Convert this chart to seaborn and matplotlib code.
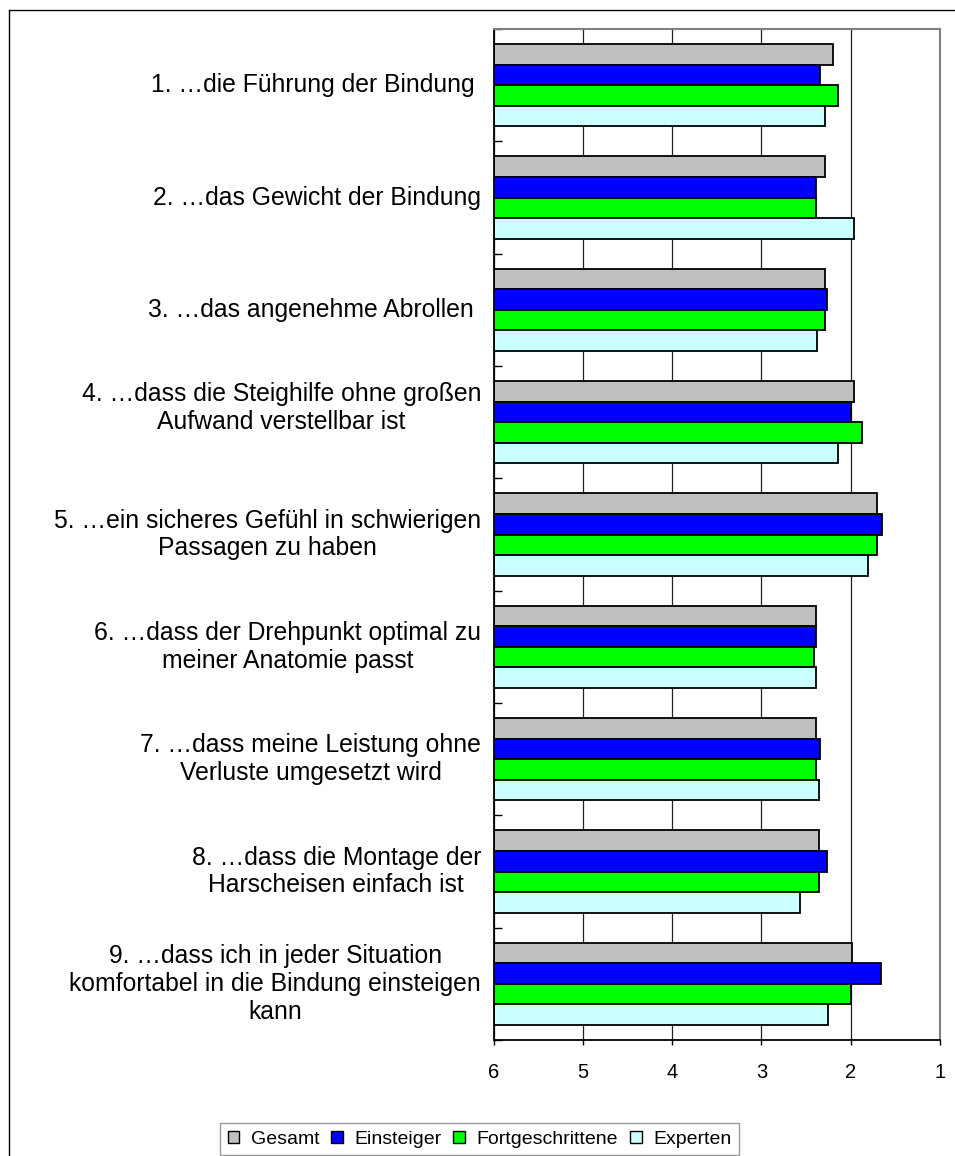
import numpy as np
import pandas as pd
import matplotlib
matplotlib.use("Agg")
import matplotlib.pyplot as plt
from matplotlib.lines import Line2D
from matplotlib.transforms import ScaledTranslation
import seaborn as sns

# ==============================
# DATA (Mittelwerte, Skala 1-6)
# ==============================
aussagen = [
    "1. …die Führung der Bindung ",
    "2. …das Gewicht der Bindung",
    "3. …das angenehme Abrollen ",
    "4. …dass die Steighilfe ohne großen\nAufwand verstellbar ist",
    "5. …ein sicheres Gefühl in schwierigen\nPassagen zu haben",
    "6. …dass der Drehpunkt optimal zu\nmeiner Anatomie passt",
    "7. …dass meine Leistung ohne\nVerluste umgesetzt wird",
    "8. …dass die Montage der\nHarscheisen einfach ist",
    "9. …dass ich in jeder Situation\nkomfortabel in die Bindung einsteigen\nkann",
]
gruppen = ["Gesamt", "Einsteiger", "Fortgeschrittene", "Experten"]

gesamt = [2.20, 2.29, 2.29, 1.96, 1.71, 2.39, 2.39, 2.36, 1.98]
einsteiger = [2.34, 2.39, 2.27, 2.00, 1.65, 2.39, 2.34, 2.27, 1.66]
fortgeschrittene = [2.14, 2.39, 2.29, 1.87, 1.71, 2.41, 2.39, 2.36, 2.00]
experten = [2.29, 1.96, 2.38, 2.14, 1.81, 2.39, 2.36, 2.57, 2.25]

x_ticks = [6, 5, 4, 3, 2, 1]
basis = 6  # bars grow from the "6" end of the reversed scale

farben = ["#C0C0C0", "#0000FF", "#00FF00", "#CCFFFF"]

# ==============================
# LONG FORMAT
# ==============================
keys = [str(i + 1) for i in range(len(aussagen))]
df = pd.DataFrame({
    "Nr": keys,
    "Gesamt": gesamt,
    "Einsteiger": einsteiger,
    "Fortgeschrittene": fortgeschrittene,
    "Experten": experten,
})
df_long = df.melt(id_vars="Nr", var_name="Gruppe", value_name="Wert")

# ==============================
# PLOT
# ==============================
sns.set_style("white")
plt.rcParams['font.family'] = ['Liberation Sans', 'DejaVu Sans']
plt.rcParams['text.color'] = 'black'
plt.rcParams['xtick.color'] = 'black'
plt.rcParams['ytick.color'] = 'black'
plt.rcParams['axes.labelcolor'] = 'black'

W, H = 955, 1156
fig = plt.figure(figsize=(W / 100, H / 100), dpi=100)
ax = fig.add_axes([493.5 / W, 1 - 1040 / H, 446.5 / W, 1011 / H])

sns.barplot(
    data=df_long, x="Wert", y="Nr", hue="Gruppe",
    order=keys, hue_order=gruppen, palette=farben,
    orient="h", width=0.73, errorbar=None,
    edgecolor="black", linewidth=1.3, saturation=1, ax=ax
)

leg_ax = ax.get_legend()
handles = leg_ax.legend_handles
labels = [t.get_text() for t in leg_ax.get_texts()]
leg_ax.remove()

# Excel style: bars start at the left end (6) of the reversed axis
for cont in ax.containers:
    for p in cont:
        w = p.get_width()
        p.set_x(basis)
        p.set_width(w - basis)

ax.set_xlim(6, 1)
ax.set_ylim(len(keys) - 0.5, -0.5)
ax.set_xlabel("")
ax.set_ylabel("")

# x axis
ax.set_xticks(x_ticks)
ax.set_xticklabels([str(t) for t in x_ticks], fontsize=14.5)
ax.tick_params(axis="x", direction="out", length=3.6, width=1, color="black", pad=13, bottom=True)
ax.xaxis.grid(True, color="#222222", linewidth=0.9)
ax.set_axisbelow(True)

# y axis: labels at group centers, small inward ticks at group borders
ax.set_yticks(range(len(keys)))
ax.set_yticklabels(aussagen, fontsize=17.8, ma="center", va="center", linespacing=1.2)
ax.tick_params(axis="y", which="major", length=0, pad=9)
ax.set_yticks(np.arange(-0.5, len(keys), 1.0), minor=True)
ax.tick_params(axis="y", which="minor", direction="in", length=6, width=1, color="black", left=True)

# label 4 sits a bit higher in the original
lbl4 = ax.get_yticklabels()[3]
lbl4.set_transform(lbl4.get_transform() + ScaledTranslation(0, 0.14, fig.dpi_scale_trans))

for side in ["top", "right"]:
    ax.spines[side].set_color("#808080")
    ax.spines[side].set_linewidth(1.5)
for side in ["left", "bottom"]:
    ax.spines[side].set_color("black")
    ax.spines[side].set_linewidth(1.3)

# legend
leg = fig.legend(
    handles, labels, loc="upper center", bbox_to_anchor=(479.5 / W, 1 - 1113 / H),
    ncol=4, fontsize=14, frameon=True, fancybox=False, edgecolor="#808080",
    handlelength=0.6, handleheight=0.6, handletextpad=0.6, columnspacing=0.6,
    borderpad=0.4
)
leg.get_frame().set_linewidth(1.0)
for h in leg.legend_handles:
    h.set_edgecolor("black")
    h.set_linewidth(1.0)

# outer chart frame
fig.add_artist(Line2D([9 / W, 9 / W], [1 - 10 / H, 0], transform=fig.transFigure, color="black", lw=1))
fig.add_artist(Line2D([9 / W, 1], [1 - 10 / H, 1 - 10 / H], transform=fig.transFigure, color="black", lw=1))

fig.savefig("out.png", dpi=100, facecolor="white")
